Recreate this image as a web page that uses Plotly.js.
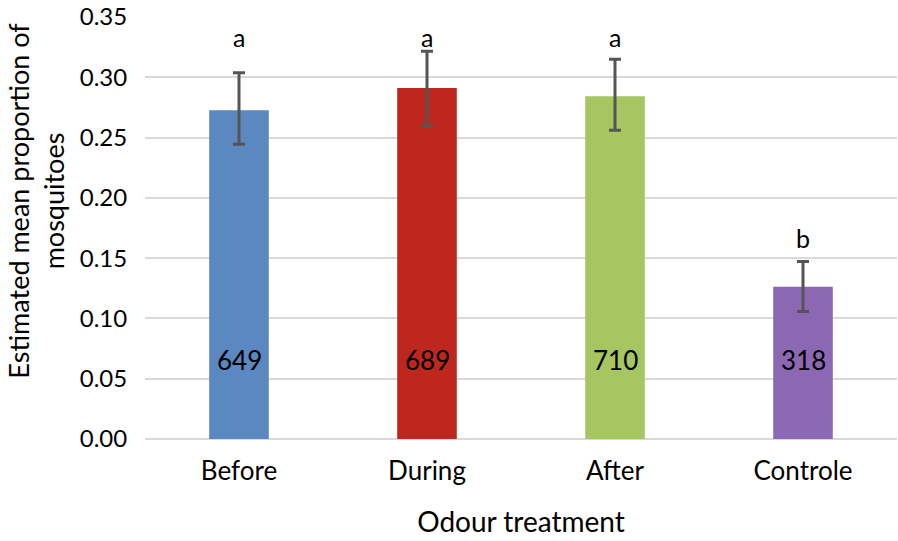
<!DOCTYPE html>
<html>
<head>
<meta charset="utf-8">
<script src="https://cdn.plot.ly/plotly-3.0.1.min.js"></script>
<style>html,body{margin:0;padding:0;background:#fff;}#chart{width:898px;height:541px;}</style>
</head>
<body>
<div id="chart"></div>
<script>
const categories = ["Before", "During", "After", "Controle"];
const means = [0.2726, 0.2912, 0.2842, 0.1263];
const errUpper = [0.0311, 0.0304, 0.0307, 0.0210];
const errLower = [0.0282, 0.0321, 0.0281, 0.0205];
const counts = ["649", "689", "710", "318"];
const letters = ["a", "a", "a", "b"];
const yTicks = [0, 0.05, 0.10, 0.15, 0.20, 0.25, 0.30, 0.35];
const xTitle = "Odour treatment";
const yTitle = "Estimated mean proportion of<br>mosquitoes";

const colors = ["#5B88C1", "#BE271D", "#A6C661", "#8C68B4"];
const FONT = "Lato, 'Open Sans', sans-serif";
const letterY = [0.3335, 0.3335, 0.3335, 0.1665];
const countY = 0.0655;

const trace = {
  type: "bar",
  x: categories,
  y: means,
  marker: {color: colors, line: {width: 0}},
  error_y: {
    type: "data", symmetric: false,
    array: errUpper, arrayminus: errLower,
    color: "#555555", thickness: 3, width: 6
  },
  hoverinfo: "none"
};

const annotations = [];
categories.forEach((c, i) => {
  annotations.push({x: c, y: letterY[i], text: letters[i], showarrow: false,
    font: {family: FONT, size: 25, color: "#000"}, xanchor: "center", yanchor: "middle"});
  annotations.push({x: c, y: countY, text: counts[i], showarrow: false,
    font: {family: FONT, size: 26, color: "#000"}, xanchor: "center", yanchor: "middle"});
});
// y-axis title (rotated paper annotation to match reference position)
annotations.push({xref: "paper", yref: "paper", x: -0.1443, y: 0.566,
  xanchor: "center", yanchor: "middle", textangle: -90, showarrow: false,
  text: yTitle, font: {family: FONT, size: 27, color: "#000"}});

const layout = {
  width: 898, height: 541,
  margin: {l: 145, r: 1, t: 17, b: 102},
  paper_bgcolor: "#fff", plot_bgcolor: "#fff",
  showlegend: false,
  bargap: 0.683,
  font: {family: FONT, size: 24, color: "#000"},
  xaxis: {
    type: "category",
    showgrid: false, zeroline: false, showline: false,
    ticks: "outside", ticklen: 9, tickcolor: "rgba(0,0,0,0)",
    tickfont: {family: FONT, size: 26, color: "#000"},
    title: {text: xTitle, font: {family: FONT, size: 28, color: "#000"}, standoff: 27}
  },
  yaxis: {
    range: [0, 0.35],
    tickvals: yTicks,
    ticktext: yTicks.map(v => v.toFixed(2)),
    showgrid: true, gridcolor: "#d9d9d9", gridwidth: 2,
    zeroline: true, zerolinecolor: "#d9d9d9", zerolinewidth: 2,
    showline: false,
    ticks: "outside", ticklen: 12, tickcolor: "rgba(0,0,0,0)",
    tickfont: {family: FONT, size: 24, color: "#000"}
  },
  annotations: annotations
};

Plotly.newPlot("chart", [trace], layout, {displayModeBar: false, staticPlot: true});
</script>
</body>
</html>
